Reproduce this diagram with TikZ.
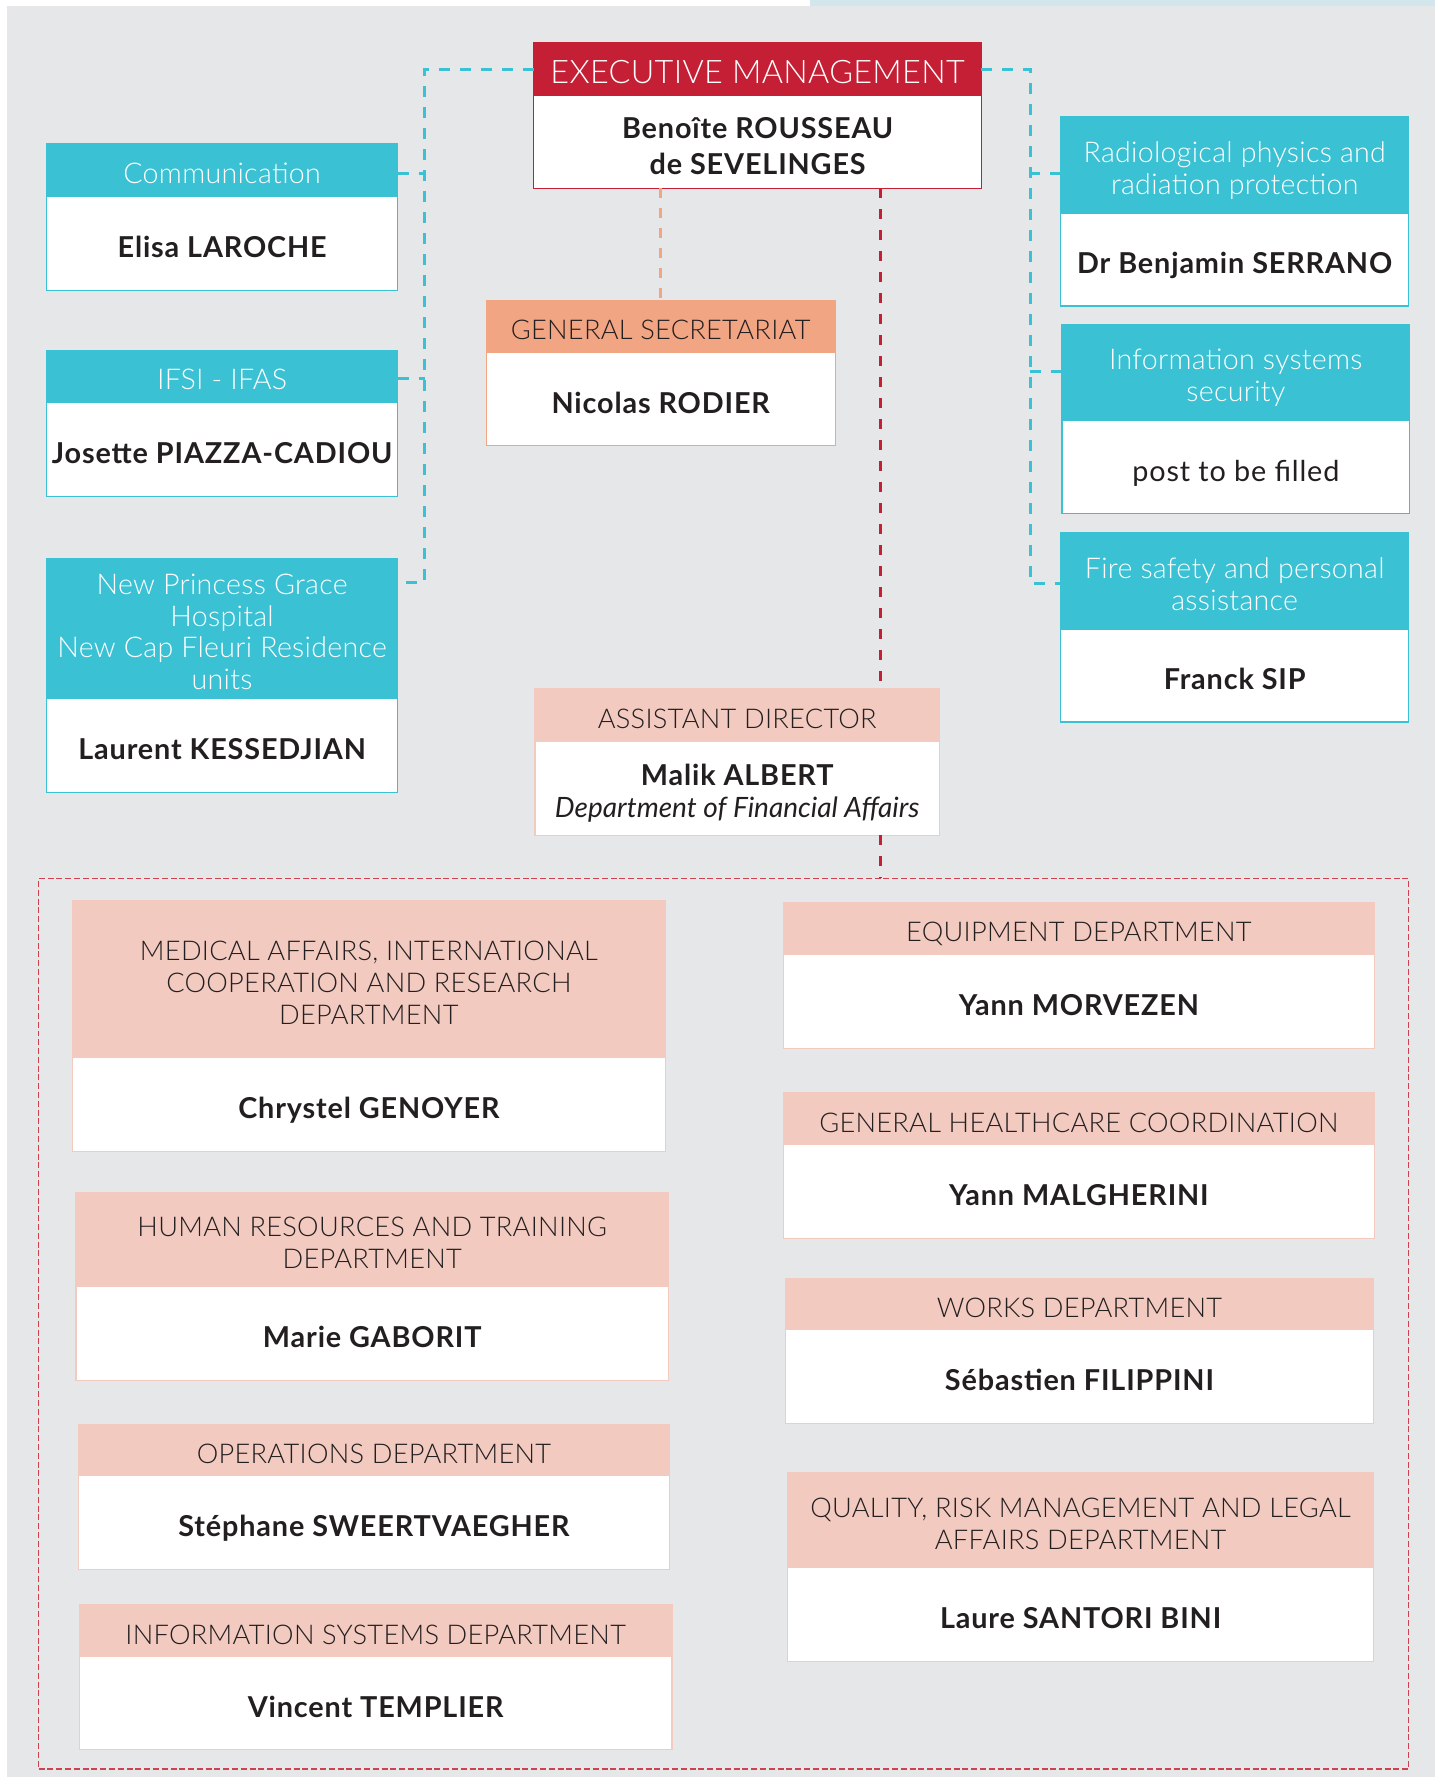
\documentclass[tikz,border=0pt]{standalone}
\usepackage{fontspec}
\setmainfont{Lato}
\newfontfamily\hdfont{Lato Light}[LetterSpace=1]
\newfontfamily\nmfont{Lato}[LetterSpace=3]
\usetikzlibrary{calc}
\definecolor{cyanc}{HTML}{3AC1D3}
\definecolor{redc}{HTML}{C41F35}
\definecolor{salc}{HTML}{F2A583}
\definecolor{pinkc}{HTML}{F2CAC0}
\definecolor{bgc}{HTML}{E6E7E8}
\definecolor{stripc}{HTML}{D3E6EC}
\definecolor{txt}{HTML}{231F20}
\def\myu{0.56675}
\newcommand\stk[1]{\raisebox{-3.6pt}[\height][\depth]{\begin{tabular}{@{}c@{}}#1\end{tabular}}}
\newcommand\obox[9]{%
  \node[#2h, minimum width={(#4-#3)*\myu pt}, minimum height={(#6-#5)*\myu pt}] (#1h) at ({(#3+#4)/2},{(#5+#6)/2}) {\stk{#8}};
  \node[#2b, minimum width={(#4-#3)*\myu pt}, minimum height={(#7-#6)*\myu pt}] (#1b) at ({(#3+#4)/2},{(#6+#7)/2}) {\stk{#9}};
}
\tikzset{
  every node/.style={inner sep=0pt, outer sep=0pt},
  hfont/.style={font=\hdfont\fontsize{13.6}{15.9}\selectfont},
  hcfont/.style={font=\hdfont\fontsize{14.3}{15.9}\selectfont},
  nfont/.style={font=\nmfont\bfseries\fontsize{14.4}{17.6}\selectfont},
  cyanh/.style={fill=cyanc, draw=cyanc, line width=0.6pt, text=white, hcfont},
  cyanb/.style={fill=white, draw=cyanc, line width=0.6pt, text=txt, nfont},
  pinkh/.style={fill=pinkc, draw=pinkc, line width=0.6pt, text=txt, hfont},
  pinkb/.style={fill=white, draw=pinkc, line width=0.6pt, text=txt, nfont},
  adh/.style={pinkh},
  adb/.style={fill=white, draw=pinkc, line width=0.6pt, text=txt, font=\nmfont\bfseries\fontsize{14.4}{15.9}\selectfont},
  salh/.style={fill=salc, draw=salc, line width=0.6pt, text=txt, hfont},
  salb/.style={fill=white, draw=salc, line width=0.6pt, text=txt, nfont},
  exech/.style={fill=redc, draw=redc, line width=0.6pt, text=white, font=\hdfont\fontsize{16.2}{19}\selectfont},
  execb/.style={fill=white, draw=redc, line width=0.6pt, text=txt, font=\nmfont\bfseries\fontsize{14.4}{18.1}\selectfont},
  cyandash/.style={draw=cyanc, line width=1.5pt, dash pattern=on 5.5pt off 5pt},
  reddash/.style={draw=redc, line width=1.4pt, dash pattern=on 5pt off 5.5pt},
  saldash/.style={draw=salc, line width=1.4pt, dash pattern=on 5pt off 5pt},
  contbox/.style={draw=redc!85, line width=0.8pt, dash pattern=on 3pt off 1.4pt},
}
\begin{document}
\begin{tikzpicture}[x=0.56675pt, y=-0.56675pt]
\useasboundingbox (0,0) rectangle (1266,1568);
\fill[white] (0,0) rectangle (1266,1568);
\fill[stripc] (715,0) rectangle (1266,6);
\fill[bgc] (6,5.3) rectangle (1266,1568);

% container
\node[contbox, minimum width={(1243-34)*\myu pt}, minimum height={(1561-775)*\myu pt}] (cont) at ({(34+1243)/2},{(775+1561)/2}) {};

% executive
\obox{exec}{exec}{471}{866}{38}{84}{166}{EXECUTIVE MANAGEMENT}{Beno\^{\i}te ROUSSEAU\\de SEVELINGES}

% left column
\obox{comm}{cyan}{41}{351}{127}{173}{256}{Communication}{Elisa LAROCHE}
\obox{ifsi}{cyan}{41}{351}{309}{355}{438}{IFSI - IFAS}{Josette PIAZZA-CADIOU}
\obox{npg}{cyan}{41}{351}{493}{616}{699}{New Princess Grace\\Hospital\\New Cap Fleuri Residence\\units}{Laurent KESSEDJIAN}

% right column
\obox{rad}{cyan}{936}{1243}{103}{188}{270}{Radiological physics and\\radiation protection}{Dr Benjamin SERRANO}
\obox{iss}{cyan}{937}{1244}{286}{371}{453}{Information systems\\security}{\mdseries post to be filled}
\obox{fire}{cyan}{936}{1243}{470}{555}{637}{Fire safety and personal\\assistance}{Franck SIP}

% centre
\obox{gsec}{sal}{429}{737}{265}{311}{393}{GENERAL SECRETARIAT}{Nicolas RODIER}
\obox{ad}{ad}{472}{829}{608}{654}{737}{ASSISTANT DIRECTOR}{Malik ALBERT\\{\normalfont\itshape\fontsize{14}{15.9}\selectfont Department of Financial Affairs}}

% departments left
\obox{med}{pink}{64}{587}{795}{933}{1016}{MEDICAL AFFAIRS, INTERNATIONAL\\COOPERATION AND RESEARCH\\DEPARTMENT}{Chrystel GENOYER}
\obox{hr}{pink}{67}{590}{1052}{1135}{1218}{HUMAN RESOURCES AND TRAINING\\DEPARTMENT}{Marie GABORIT}
\obox{ops}{pink}{69}{591}{1257}{1302}{1385}{OPERATIONS DEPARTMENT}{St\'ephane SWEERTVAEGHER}
\obox{isd}{pink}{70}{593}{1416}{1462}{1544}{INFORMATION SYSTEMS DEPARTMENT}{Vincent TEMPLIER}

% departments right
\obox{equip}{pink}{691}{1213}{796}{842}{925}{EQUIPMENT DEPARTMENT}{Yann MORVEZEN}
\obox{ghc}{pink}{691}{1213}{964}{1010}{1093}{GENERAL HEALTHCARE COORDINATION}{Yann MALGHERINI}
\obox{works}{pink}{693}{1212}{1128}{1173}{1256}{WORKS DEPARTMENT}{S\'ebastien FILIPPINI}
\obox{qual}{pink}{695}{1212}{1299}{1383}{1466}{QUALITY, RISK MANAGEMENT AND LEGAL\\AFFAIRS DEPARTMENT}{Laure SANTORI BINI}

% connectors
\coordinate (lbus) at (375,0);
\coordinate (rbus) at (909,0);
\coordinate (redx) at (777,0);
\coordinate (comms) at ($(commh.north east)+(0,26)$);
\coordinate (ifsis) at ($(ifsih.north east)+(0,25)$);
\coordinate (npgs) at ($(npgh.north east)+(0,21)$);
\coordinate (rads) at ($(radh.north west)+(0,50)$);
\coordinate (isss) at ($(issh.north west)+(0,42)$);
\coordinate (fires) at ($(fireh.north west)+(0,45)$);

\draw[cyandash] (exech.west) -| (npgs -| lbus) -- (npgs);
\draw[cyandash] (comms) -- (comms -| lbus);
\draw[cyandash] (ifsis) -- (ifsis -| lbus);
\draw[cyandash] (exech.east) -| (fires -| rbus) -- (fires);
\draw[cyandash] (rads) -- (rads -| rbus);
\draw[cyandash] (isss) -- (isss -| rbus);

\draw[saldash] (execb.south -| gsech.north) -- (gsech.north);
\draw[reddash] (execb.south -| redx) -- (adh.north -| redx);
\draw[reddash] (adb.south -| redx) -- (cont.north -| redx);
\end{tikzpicture}
\end{document}
